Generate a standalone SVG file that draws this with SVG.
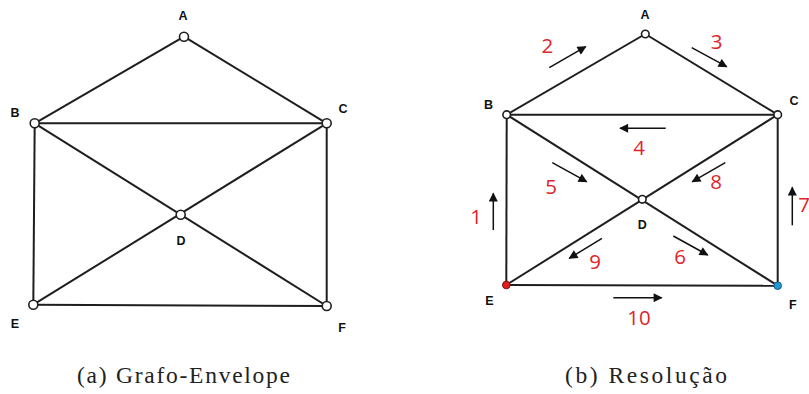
<svg xmlns="http://www.w3.org/2000/svg" width="809" height="394" viewBox="0 0 809 394">
<style>
.e{stroke:#1e1e1e;stroke-width:2;fill:none}
.n{fill:#fff;stroke:#1e1e1e;stroke-width:1.6}
.lb{font-family:"Liberation Sans",Arial,sans-serif;font-weight:bold;font-size:12.5px;fill:#111;text-anchor:middle}
.num{font-family:"Open Sans","Liberation Sans",sans-serif;font-size:20.5px;fill:#e0242c;text-anchor:middle}
.ar{stroke:#111;stroke-width:1.5;fill:none;marker-end:url(#ah)}
.cap{font-family:"Liberation Serif","DejaVu Serif",serif;font-size:23.5px;fill:#222;text-anchor:middle}
</style>
<defs>
<marker id="ah" viewBox="0 0 10 10" refX="9" refY="5" markerWidth="10" markerHeight="9" markerUnits="userSpaceOnUse" orient="auto">
<path d="M0,0 L10,5 L0,10 z" fill="#111"/>
</marker>
</defs>
<rect width="809" height="394" fill="#fff"/>
<g id="connectors-a">
<line class="e" x1="184" y1="36.7" x2="34.7" y2="123.3"/>
<line class="e" x1="184" y1="36.7" x2="326.7" y2="123.3"/>
<line class="e" x1="34.7" y1="123.3" x2="326.7" y2="123.3"/>
<line class="e" x1="34.7" y1="123.3" x2="33.3" y2="304.7"/>
<line class="e" x1="326.7" y1="123.3" x2="326.7" y2="306"/>
<line class="e" x1="34.7" y1="123.3" x2="326.7" y2="306"/>
<line class="e" x1="326.7" y1="123.3" x2="33.3" y2="304.7"/>
<line class="e" x1="33.3" y1="304.7" x2="326.7" y2="306"/>
</g>
<g id="a-A"><circle class="n" cx="184" cy="36.7" r="4.5"/><text class="lb" x="183" y="19.5">A</text></g>
<g id="a-B"><circle class="n" cx="34.7" cy="123.3" r="4.5"/><text class="lb" x="15" y="116.5">B</text></g>
<g id="a-C"><circle class="n" cx="326.7" cy="123.3" r="4.5"/><text class="lb" x="343" y="112.5">C</text></g>
<g id="a-D"><circle class="n" cx="180.7" cy="214.7" r="4.5"/><text class="lb" x="181" y="244.5">D</text></g>
<g id="a-E"><circle class="n" cx="33.3" cy="304.7" r="4.5"/><text class="lb" x="15" y="327.5">E</text></g>
<g id="a-F"><circle class="n" cx="326.7" cy="306" r="4.5"/><text class="lb" x="342" y="331.5">F</text></g>

<g id="connectors-b">
<line class="e" x1="645.3" y1="34" x2="506.7" y2="114.7"/>
<line class="e" x1="645.3" y1="34" x2="777.7" y2="114.7"/>
<line class="e" x1="506.7" y1="114.7" x2="777.7" y2="114.7"/>
<line class="e" x1="506.7" y1="114.7" x2="506.3" y2="285"/>
<line class="e" x1="777.7" y1="114.7" x2="777.7" y2="285.7"/>
<line class="e" x1="506.7" y1="114.7" x2="777.7" y2="285.7"/>
<line class="e" x1="777.7" y1="114.7" x2="506.3" y2="285"/>
<line class="e" x1="506.3" y1="285" x2="777.7" y2="285.7"/>
<line class="ar" x1="549.3" y1="67.7" x2="585.7" y2="46.7"/>
<line class="ar" x1="691.7" y1="47.7" x2="726.7" y2="66.7"/>
<line class="ar" x1="665.7" y1="128.3" x2="620" y2="128.3"/>
<line class="ar" x1="552.3" y1="162.7" x2="586.7" y2="181.7"/>
<line class="ar" x1="725.3" y1="162.7" x2="692.3" y2="181.7"/>
<line class="ar" x1="493.3" y1="230" x2="493.3" y2="193.3"/>
<line class="ar" x1="792.3" y1="225.3" x2="792.3" y2="187.3"/>
<line class="ar" x1="602" y1="238.3" x2="569.3" y2="258.3"/>
<line class="ar" x1="673.3" y1="236" x2="707.7" y2="255"/>
<line class="ar" x1="613.3" y1="297.7" x2="661.7" y2="297.7"/>
</g>
<g id="labels-b">
<text class="num" x="547.3" y="52.5">2</text>
<text class="num" x="716.7" y="49">3</text>
<text class="num" x="639" y="154.5">4</text>
<text class="num" x="551" y="193.5">5</text>
<text class="num" x="716" y="189">8</text>
<text class="num" x="476" y="223.5">1</text>
<text class="num" x="804" y="211.5">7</text>
<text class="num" x="595" y="269">9</text>
<text class="num" x="680" y="264">6</text>
<text class="num" x="639" y="324.5">10</text>
</g>
<g id="b-A"><circle class="n" cx="645.3" cy="34" r="3.8"/><text class="lb" x="645" y="18.5">A</text></g>
<g id="b-B"><circle class="n" cx="506.7" cy="114.7" r="3.8"/><text class="lb" x="488.5" y="108.5">B</text></g>
<g id="b-C"><circle class="n" cx="777.7" cy="114.7" r="3.8"/><text class="lb" x="794" y="104.5">C</text></g>
<g id="b-D"><circle class="n" cx="642.3" cy="199.3" r="3.8"/><text class="lb" x="642.3" y="228.5">D</text></g>
<g id="b-E"><circle cx="506.3" cy="285" r="3.8" fill="#e11d1d" stroke="#7a1010" stroke-width="1"/><text class="lb" x="489.3" y="304.5">E</text></g>
<g id="b-F"><circle cx="777.7" cy="285.7" r="3.8" fill="#1e9ad6" stroke="#155a80" stroke-width="1"/><text class="lb" x="792.7" y="308.5">F</text></g>

<text class="cap" x="183.5" y="383" textLength="213" lengthAdjust="spacing">(a) Grafo-Envelope</text>
<text class="cap" x="646" y="383" textLength="162" lengthAdjust="spacing">(b) Resolução</text>
</svg>
